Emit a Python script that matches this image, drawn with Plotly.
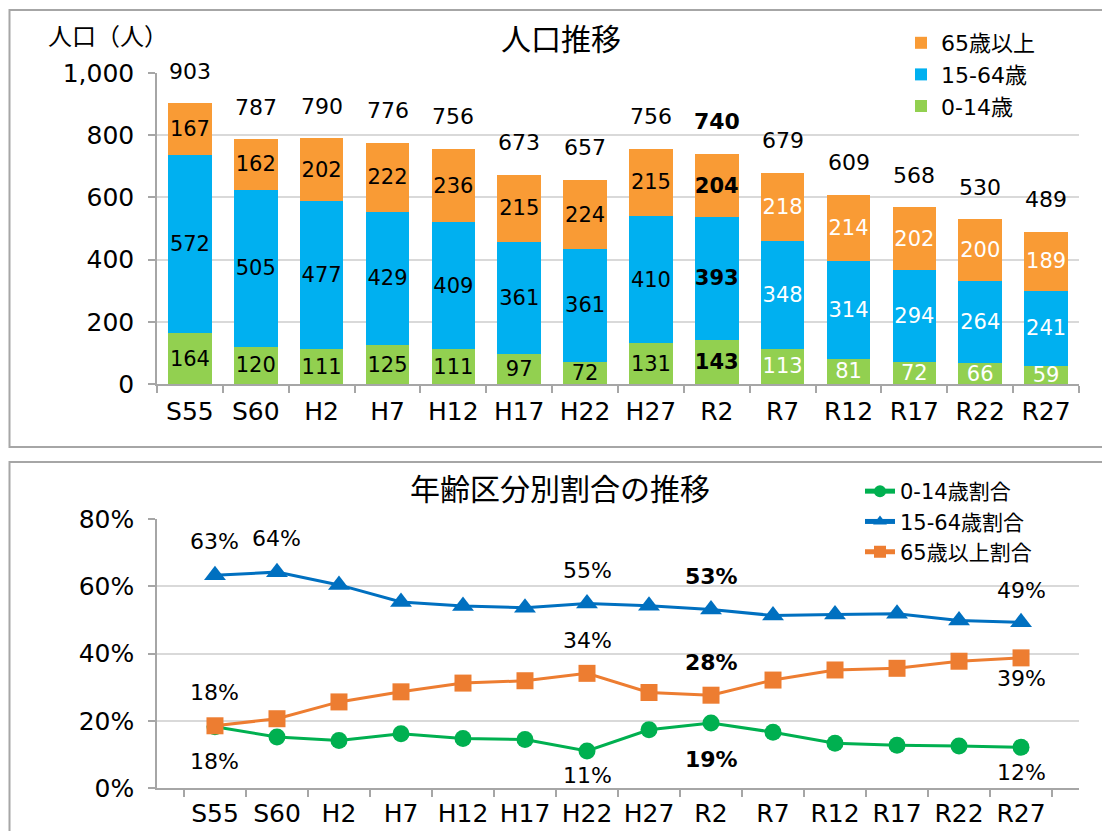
import plotly.graph_objects as go

# ---------------- data ----------------
categories = ["S55", "S60", "H2", "H7", "H12", "H17", "H22", "H27", "R2", "R7", "R12", "R17", "R22", "R27"]
pop_0_14 = [164, 120, 111, 125, 111, 97, 72, 131, 143, 113, 81, 72, 66, 59]
pop_15_64 = [572, 505, 477, 429, 409, 361, 361, 410, 393, 348, 314, 294, 264, 241]
pop_65_over = [167, 162, 202, 222, 236, 215, 224, 215, 204, 218, 214, 202, 200, 189]
pop_total = [903, 787, 790, 776, 756, 673, 657, 756, 740, 679, 609, 568, 530, 489]

ratio_0_14 = [0.182, 0.152, 0.141, 0.161, 0.147, 0.144, 0.110, 0.173, 0.193, 0.166, 0.133, 0.127, 0.125, 0.121]
ratio_15_64 = [0.633, 0.642, 0.604, 0.553, 0.541, 0.536, 0.549, 0.542, 0.531, 0.513, 0.516, 0.518, 0.498, 0.493]
ratio_65_over = [0.185, 0.206, 0.256, 0.286, 0.312, 0.319, 0.341, 0.284, 0.276, 0.321, 0.351, 0.356, 0.377, 0.387]

names_bar = ["0-14歳", "15-64歳", "65歳以上"]
names_line = ["0-14歳割合", "15-64歳割合", "65歳以上割合"]

# ---------------- style ----------------
OFF = 8                      # page body margin
W, H = 1110 - 2 * OFF, 839 - 2 * OFF
FONT = "DejaVu Sans, Noto Sans CJK JP, sans-serif"
CJK = "Noto Sans CJK JP, sans-serif"
BAR_COLORS = ["#92D050", "#00B0F0", "#F99B35"]
LINE_COLORS = ["#00B050", "#0070C0", "#ED7D31"]
GRID = "#D9D9D9"
AXIS = "#A6A6A6"
BOLD_IDX = 8          # R2 highlighted
WHITE_FROM = 9        # labels white from R7 onward


def px_x(p):
    return (p - OFF) / W


def px_y(p):
    return 1 - (p - OFF) / H


fig = go.Figure()

# ---- stacked bars ----
for vals, name, col in zip([pop_0_14, pop_15_64, pop_65_over], names_bar, BAR_COLORS):
    txt = [f"<b>{v}</b>" if i == BOLD_IDX else str(v) for i, v in enumerate(vals)]
    tcol = ["white" if i >= WHITE_FROM else "black" for i in range(len(vals))]
    fig.add_trace(go.Bar(
        x=categories, y=vals, name=name, marker=dict(color=col, line=dict(width=0)),
        width=0.66, text=txt, textposition="inside", insidetextanchor="middle",
        textangle=0, textfont=dict(family=FONT, size=21, color=tcol),
        xaxis="x", yaxis="y", legend="legend", hoverinfo="skip",
    ))

# ---- lines ----
symbols = ["circle", "triangle-up", "square"]
msizes = [17, 19, 17]
for vals, name, col, sym, ms in zip([ratio_0_14, ratio_15_64, ratio_65_over], names_line, LINE_COLORS, symbols, msizes):
    fig.add_trace(go.Scatter(
        x=categories, y=vals, name=name, mode="lines+markers",
        line=dict(color=col, width=3), marker=dict(symbol=sym, size=ms, color=col),
        xaxis="x2", yaxis="y2", legend="legend2", hoverinfo="skip",
    ))

annotations = []
# totals above bars
for i, (c, t) in enumerate(zip(categories, pop_total)):
    annotations.append(dict(
        x=c, y=t, xref="x", yref="y", yshift=32, showarrow=False,
        text=f"<b>{t}</b>" if i == BOLD_IDX else str(t),
        font=dict(family=FONT, size=22, color="black"),
    ))

# line labels: (series, index, yshift)
label_spec = [
    (ratio_15_64, 0, 34), (ratio_15_64, 1, 34), (ratio_15_64, 6, 33), (ratio_15_64, 8, 33), (ratio_15_64, 13, 32),
    (ratio_65_over, 0, 33), (ratio_65_over, 6, 33), (ratio_65_over, 8, 33), (ratio_65_over, 13, -21),
    (ratio_0_14, 0, -35), (ratio_0_14, 6, -24), (ratio_0_14, 8, -36), (ratio_0_14, 13, -25),
]
for series, i, ys in label_spec:
    v = series[i]
    s = f"{round(v * 100):d}%"
    annotations.append(dict(
        x=categories[i], y=v, xref="x2", yref="y2", yshift=ys, showarrow=False,
        text=f"<b>{s}</b>" if i == BOLD_IDX else s,
        font=dict(family=FONT, size=22, color="black"),
    ))

# titles
annotations.append(dict(x=px_x(561), y=px_y(37), xref="paper", yref="paper", showarrow=False,
                        text="人口推移", font=dict(family=CJK, size=30, color="black"),
                        xanchor="center", yanchor="middle"))
annotations.append(dict(x=px_x(560), y=px_y(487), xref="paper", yref="paper", showarrow=False,
                        text="年齢区分別割合の推移", font=dict(family=CJK, size=30, color="black"),
                        xanchor="center", yanchor="middle"))
annotations.append(dict(x=px_x(46), y=px_y(35), xref="paper", yref="paper", showarrow=False,
                        text="人口（人）", font=dict(family=CJK, size=24, color="black"),
                        xanchor="left", yanchor="middle"))

shapes = [
    dict(type="rect", xref="paper", yref="paper", x0=px_x(9.5), x1=1.05, y0=px_y(447), y1=px_y(10),
         line=dict(color=AXIS, width=2), fillcolor="rgba(0,0,0,0)", layer="below"),
    dict(type="rect", xref="paper", yref="paper", x0=px_x(9.5), x1=1.05, y0=-0.05, y1=px_y(462),
         line=dict(color=AXIS, width=2), fillcolor="rgba(0,0,0,0)", layer="below"),
]

xdom = [px_x(157), px_x(1079)]
xaxis_common = dict(
    type="category", tickson="boundaries", ticks="outside", ticklen=7, tickcolor=AXIS, tickwidth=1.5,
    showline=True, linecolor=AXIS, linewidth=1.5, showgrid=False, automargin=False,
    tickfont=dict(family=FONT, size=25, color="black"), domain=xdom,
)
yaxis_common = dict(
    ticks="outside", ticklen=7, tickcolor=AXIS, tickwidth=1.5, automargin=False,
    showline=True, linecolor=AXIS, linewidth=1.5, showgrid=True, gridcolor=GRID, gridwidth=1.5,
    tickfont=dict(family=FONT, size=25, color="black"), zeroline=False, ticklabelstandoff=9,
)

fig.update_layout(
    width=W, height=H, margin=dict(l=0, r=0, t=0, b=0, pad=0, autoexpand=False),
    paper_bgcolor="white", plot_bgcolor="white",
    barmode="stack", bargap=0.34,
    showlegend=True,
    xaxis=dict(**xaxis_common, anchor="y", ticklabelstandoff=4),
    yaxis=dict(**yaxis_common, domain=[px_y(384), px_y(73)], range=[0, 1000], dtick=200,
               tickformat=",d", anchor="x"),
    xaxis2=dict(**xaxis_common, anchor="y2", ticklabelstandoff=2),
    yaxis2=dict(**yaxis_common, domain=[px_y(788), px_y(519)], range=[0, 0.8], dtick=0.2,
                tickformat=".0%", anchor="x2"),
    legend=dict(x=px_x(901), y=px_y(22), xanchor="left", yanchor="top", traceorder="reversed",
                bgcolor="white", font=dict(family=FONT, size=22, color="black"),
                itemsizing="constant", tracegroupgap=0),
    legend2=dict(x=px_x(860), y=px_y(471), xanchor="left", yanchor="top", traceorder="normal",
                 bgcolor="white", font=dict(family=FONT, size=21, color="black"),
                 itemsizing="constant", tracegroupgap=0),
    uniformtext=dict(minsize=21, mode="show"),
    annotations=annotations, shapes=shapes,
)

fig.write_html("out.html")
